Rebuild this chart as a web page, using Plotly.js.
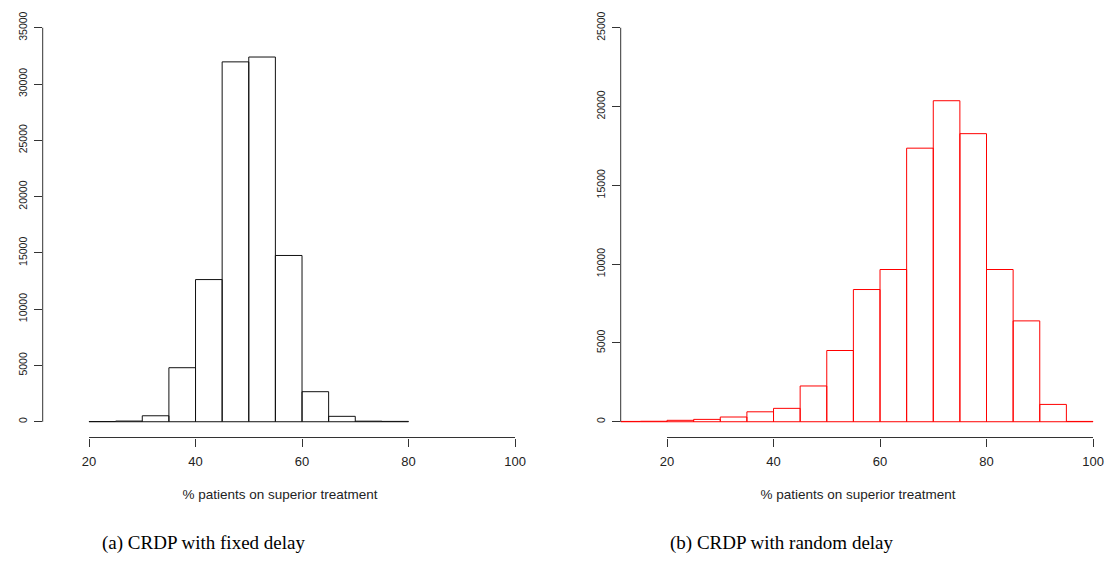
<!DOCTYPE html>
<html>
<head>
<meta charset="utf-8">
<script src="https://cdn.plot.ly/plotly-3.0.1.min.js"></script>
<style>html,body{margin:0;padding:0;background:#fff;}#chart{width:1107px;height:572px;}</style>
</head>
<body>
<div id="chart"></div>
<script>
// Bin starts (width 5) and counts
var fixedBinStart = [20, 25, 30, 35, 40, 45, 50, 55, 60, 65, 70, 75];
var fixedCounts   = [20, 60, 530, 4800, 12630, 31970, 32400, 14770, 2670, 480, 50, 30];

var randomBinStart = [10, 15, 20, 25, 30, 35, 40, 45, 50, 55, 60, 65, 70, 75, 80, 85, 90, 95];
var randomCounts   = [20, 30, 90, 150, 300, 630, 850, 2270, 4520, 8390, 9660, 17360, 20370, 18280, 9660, 6400, 1100, 20];

var xTicks = [20, 40, 60, 80, 100];
var yTicksFixed = [0, 5000, 10000, 15000, 20000, 25000, 30000, 35000];
var yTicksRandom = [0, 5000, 10000, 15000, 20000, 25000];

var xTitle = '% patients on superior treatment';
var captionA = '(a) CRDP with fixed delay';
var captionB = '(b) CRDP with random delay';

var W = 1107, H = 572;
var sans = 'Liberation Sans, Arial, Helvetica, sans-serif';
var axisCol = '#333';

var traces = [
  {type: 'bar', x: fixedBinStart, y: fixedCounts, width: 5, offset: 0,
   xaxis: 'x', yaxis: 'y',
   marker: {color: 'rgba(255,255,255,0)', line: {color: '#111', width: 1}},
   hoverinfo: 'x+y', showlegend: false},
  {type: 'bar', x: randomBinStart, y: randomCounts, width: 5, offset: 0,
   xaxis: 'x2', yaxis: 'y2',
   marker: {color: 'rgba(255,255,255,0)', line: {color: '#ff0000', width: 1}},
   hoverinfo: 'x+y', showlegend: false}
];

function xAxis(domain, range, anchor) {
  return {
    domain: domain, range: range, anchor: anchor,
    tickmode: 'array', tickvals: xTicks, ticktext: xTicks.map(String),
    ticks: 'outside', ticklen: 8, tickwidth: 1, tickcolor: axisCol,
    showline: false, showgrid: false, zeroline: false,
    tickfont: {family: sans, size: 13, color: '#222'},
    ticklabelstandoff: 4,
    title: {text: xTitle, font: {family: sans, size: 13.5, color: '#222'}, standoff: 21},
    automargin: false, fixedrange: true
  };
}
function yAxis(domain, range, anchor, ticks) {
  return {
    domain: domain, range: range, anchor: anchor,
    tickmode: 'array', tickvals: ticks, ticktext: ticks.map(String),
    ticks: 'outside', ticklen: 8, tickwidth: 1, tickcolor: axisCol,
    tickangle: -90,
    showline: false, showgrid: false, zeroline: false,
    tickfont: {family: sans, size: 10.5, color: '#222'},
    ticklabelstandoff: 3,
    automargin: false, fixedrange: true
  };
}

var yDom = [(H - 437.5) / H, (H - 12) / H];

var layout = {
  width: W, height: H,
  margin: {l: 0, r: 0, t: 0, b: 0},
  paper_bgcolor: '#fff', plot_bgcolor: '#fff',
  bargap: 0, barmode: 'overlay',
  xaxis: xAxis([42.7 / W, 517.3 / W], [11.3, 100.43], 'y'),
  yaxis: yAxis(yDom, [-1400, 36400], 'x', yTicksFixed),
  xaxis2: xAxis([620.7 / W, 1095.3 / W], [11.3, 100.43], 'y2'),
  yaxis2: yAxis(yDom, [-1000, 26000], 'x2', yTicksRandom),
  shapes: [
    {type: 'line', xref: 'x domain', x0: 0, x1: 0, yref: 'y',
     y0: yTicksFixed[0], y1: yTicksFixed[yTicksFixed.length - 1], line: {color: axisCol, width: 1}},
    {type: 'line', xref: 'x', x0: xTicks[0], x1: xTicks[xTicks.length - 1], yref: 'y domain',
     y0: 0, y1: 0, line: {color: axisCol, width: 1}},
    {type: 'line', xref: 'x2 domain', x0: 0, x1: 0, yref: 'y2',
     y0: yTicksRandom[0], y1: yTicksRandom[yTicksRandom.length - 1], line: {color: axisCol, width: 1}},
    {type: 'line', xref: 'x2', x0: xTicks[0], x1: xTicks[xTicks.length - 1], yref: 'y2 domain',
     y0: 0, y1: 0, line: {color: axisCol, width: 1}}
  ],
  annotations: [
    {text: captionA, xref: 'paper', yref: 'paper', x: 100 / W, y: (H - 543) / H,
     xanchor: 'left', yanchor: 'middle', showarrow: false,
     font: {family: 'Liberation Serif, Times New Roman, serif', size: 19, color: '#000'}},
    {text: captionB, xref: 'paper', yref: 'paper', x: 668 / W, y: (H - 543) / H,
     xanchor: 'left', yanchor: 'middle', showarrow: false,
     font: {family: 'Liberation Serif, Times New Roman, serif', size: 19, color: '#000'}}
  ]
};

Plotly.newPlot('chart', traces, layout, {displayModeBar: false, staticPlot: true});
</script>
</body>
</html>
